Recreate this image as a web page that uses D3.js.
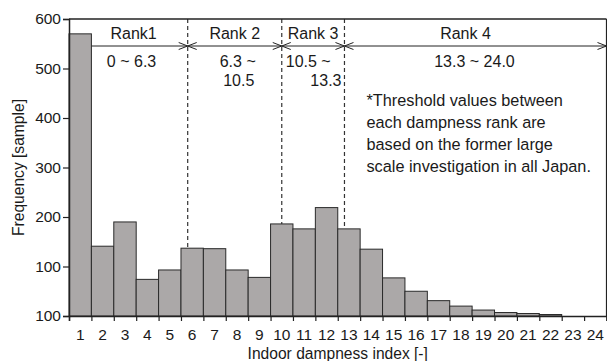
<!DOCTYPE html>
<html><head><meta charset="utf-8">
<script src="https://cdn.jsdelivr.net/npm/d3@7"></script>
<style>
html,body{margin:0;padding:0;background:#fff;}
text{font-family:"Liberation Sans",Arial,sans-serif;fill:#1a1a1a;}
</style></head>
<body>
<svg id="chart" width="607" height="361"></svg>
<script>
// ---- data ----
const categories = [1,2,3,4,5,6,7,8,9,10,11,12,13,14,15,16,17,18,19,20,21,22,23,24];
const frequency  = [570,141,190,74,93,137,136,93,78,186,176,219,176,135,77,50,31,20,12,7,5,3,0,0];
const yTickValues = [0,100,200,300,400,500,600];
const yTickLabels = ["100","100","200","300","400","500","600"];
const thresholds = [6.3,10.5,13.3];
const rankNames = ["Rank1","Rank 2","Rank 3","Rank 4"];
const rankRanges = [["0 ~ 6.3"],["6.3 ~","10.5"],["10.5 ~","13.3"],["13.3 ~ 24.0"]];
const noteLines = ["*Threshold values between","each dampness rank are","based on the former large","scale investigation in all Japan."];
const xTitle = "Indoor dampness index [-]";
const yTitle = "Frequency [sample]";

// ---- layout ----
const svg = d3.select("#chart");
const L = 69, R = 606.5, T = 19, B = 316;
const x = d3.scaleLinear().domain([1, 25]).range([L, R]);
const y = d3.scaleLinear().domain([0, 600]).range([B, T]);
const dark = "#222";
const fs = 16;

// arrows (behind bars)
const arrowY = 46;
const bounds = [x(1)].concat(thresholds.map(x)).concat([x(25)]);
const g = svg.append("g");
for (let i = 0; i < 4; i++) {
  const x0 = bounds[i], x1 = bounds[i+1];
  g.append("line").attr("x1", x0).attr("x2", x1).attr("y1", arrowY).attr("y2", arrowY)
    .attr("stroke", dark).attr("stroke-width", 1);
  g.append("path").attr("d", `M${x1-9},${arrowY-3.5}L${x1},${arrowY}L${x1-9},${arrowY+3.5}`)
    .attr("fill","none").attr("stroke", dark).attr("stroke-width", 1);
  if (i > 0) {
    g.append("path").attr("d", `M${x0+9},${arrowY-3.5}L${x0},${arrowY}L${x0+9},${arrowY+3.5}`)
      .attr("fill","none").attr("stroke", dark).attr("stroke-width", 1);
  }
}

// dashed threshold lines
svg.selectAll("line.thr").data(thresholds).enter().append("line")
  .attr("class","thr")
  .attr("x1", d => x(d)).attr("x2", d => x(d))
  .attr("y1", T).attr("y2", B)
  .attr("stroke", "#333").attr("stroke-width", 1.2).attr("stroke-dasharray", "4,3");

// bars
svg.selectAll("rect.bar").data(categories).enter().append("rect")
  .attr("class","bar")
  .attr("x", d => x(d))
  .attr("width", d => x(d+1) - x(d))
  .attr("y", (d,i) => y(frequency[i]))
  .attr("height", (d,i) => B - y(frequency[i]))
  .attr("fill", "#aba8a8")
  .attr("stroke", "#2a2a2a").attr("stroke-width", 1);

// frame
svg.append("line").attr("x1", L).attr("x2", R).attr("y1", T).attr("y2", T).attr("stroke", dark).attr("stroke-width", 1.5);
svg.append("line").attr("x1", R).attr("x2", R).attr("y1", T).attr("y2", B).attr("stroke", dark).attr("stroke-width", 1.2);

// y axis
const yAxis = d3.axisLeft(y).tickValues(yTickValues).tickSize(6).tickPadding(2)
  .tickFormat((d,i) => yTickLabels[i]);
const ya = svg.append("g").attr("transform", `translate(${L},0)`).call(yAxis);
ya.select(".domain").attr("stroke", dark).attr("stroke-width", 1.5);
ya.selectAll(".tick line").attr("stroke", dark).attr("stroke-width", 1.2);
ya.selectAll(".tick text").attr("font-size", 15.5).attr("fill", "#1a1a1a")
  .style("font-family", '"Liberation Sans",Arial,sans-serif');

// x axis: ticks at bin edges, labels at bin centres
const edges = d3.range(1, 26);
const xa = svg.append("g").attr("transform", `translate(0,${B})`)
  .call(d3.axisBottom(x).tickValues(edges).tickSize(5).tickFormat(""));
xa.select(".domain").attr("stroke", dark).attr("stroke-width", 1.5);
xa.selectAll(".tick line").attr("stroke", dark).attr("stroke-width", 1.2);
svg.selectAll("text.xl").data(categories).enter().append("text")
  .attr("class","xl")
  .attr("x", d => x(d + 0.5)).attr("y", 340)
  .attr("text-anchor","middle").attr("font-size", 15.5)
  .text(d => d);

// titles
svg.append("text").attr("x", (L+R)/2).attr("y", 359).attr("text-anchor","middle")
  .attr("font-size", 15.6).text(xTitle);
svg.append("text").attr("transform", `translate(23.5,${(T+B)/2}) rotate(-90)`)
  .attr("text-anchor","middle").attr("font-size", 15.6).text(yTitle);

// rank labels
const rankCenters = [
  (x(2)+bounds[1])/2 - 6,
  (bounds[1]+bounds[2])/2,
  (bounds[2]+bounds[3])/2,
  (bounds[3]+bounds[4])/2 - 10
];
rankNames.forEach((nm, i) => {
  svg.append("text").attr("x", rankCenters[i]).attr("y", 38.5)
    .attr("text-anchor","middle").attr("font-size", fs).text(nm);
});
// range labels
svg.append("text").attr("x", rankCenters[0] - 2).attr("y", 67).attr("text-anchor","middle").attr("font-size", fs).text(rankRanges[0][0]);
svg.append("text").attr("x", rankCenters[1]+3).attr("y", 67).attr("text-anchor","middle").attr("font-size", fs).text(rankRanges[1][0]);
svg.append("text").attr("x", rankCenters[1]+4).attr("y", 86).attr("text-anchor","middle").attr("font-size", fs).text(rankRanges[1][1]);
svg.append("text").attr("x", bounds[2]+4).attr("y", 67).attr("text-anchor","start").attr("font-size", fs).text(rankRanges[2][0]);
svg.append("text").attr("x", bounds[3]-3).attr("y", 86).attr("text-anchor","end").attr("font-size", fs).text(rankRanges[2][1]);
svg.append("text").attr("x", rankCenters[3]+9).attr("y", 67).attr("text-anchor","middle").attr("font-size", fs).text(rankRanges[3][0]);

// note
svg.selectAll("text.note").data(noteLines).enter().append("text")
  .attr("class","note")
  .attr("x", bounds[3] + 22).attr("y", (d,i) => 106 + i*22)
  .attr("font-size", 16.3).text(d => d);
</script>
</body></html>
